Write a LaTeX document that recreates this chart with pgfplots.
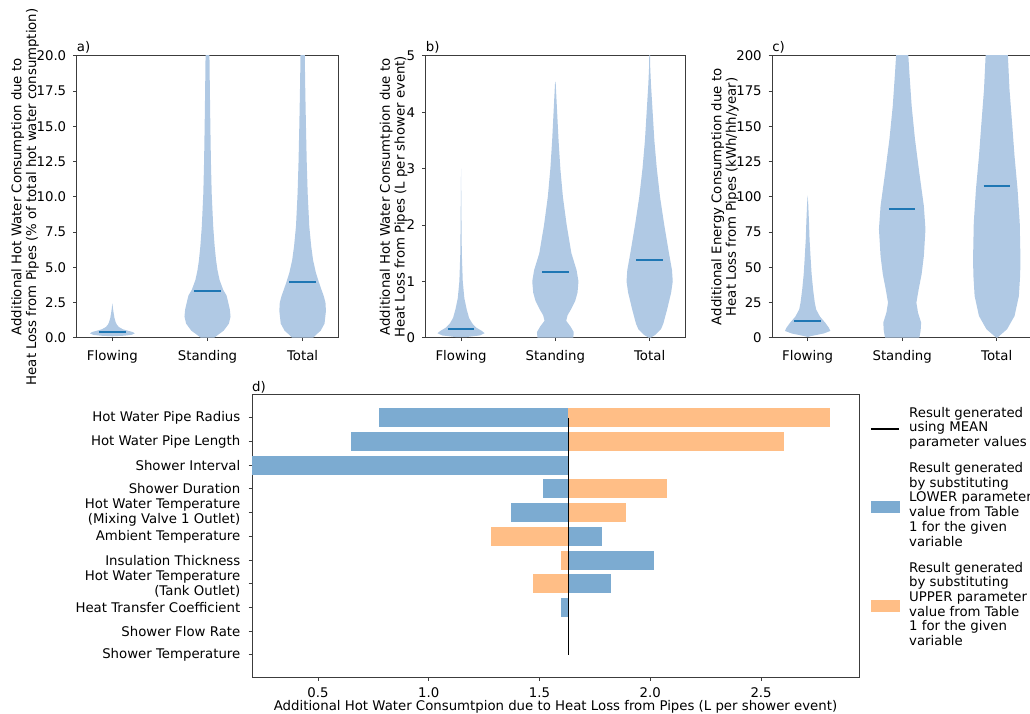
\documentclass[border=0pt]{standalone}
\usepackage{fontspec}
\setmainfont{DejaVu Sans}
\usepackage{pgfplots}
\pgfplotsset{compat=1.18}
\usepgfplotslibrary{fillbetween}
\usepackage{pgfplotstable}

\definecolor{vio}{RGB}{176,201,228}
\definecolor{meanc}{RGB}{31,119,180}
\definecolor{bblue}{RGB}{124,171,209}
\definecolor{borange}{RGB}{255,190,134}
\definecolor{spine}{RGB}{60,60,60}
\newcommand\fs{\fontsize{13.3pt}{14.7pt}\selectfont}

% ---- violin half-widths (y, w) ----
\pgfplotstableread{
y w
0.10 0.000
0.14 0.120
0.20 0.200
0.30 0.235
0.40 0.215
0.50 0.160
0.60 0.110
0.75 0.070
0.90 0.050
1.10 0.035
1.40 0.022
1.80 0.012
2.10 0.006
2.45 0.000
}\aF
\pgfplotstableread{
y w
0.0 0.070
0.2 0.110
0.5 0.170
1.0 0.225
1.5 0.242
2.0 0.235
2.5 0.218
3.0 0.200
3.4 0.165
4.1 0.127
4.8 0.105
5.5 0.090
6.5 0.075
7.9 0.060
10.25 0.044
12.5 0.036
15 0.030
17.5 0.025
19.7 0.021
21 0.020
}\aS
\pgfplotstableread{
y w
0.0 0.110
0.2 0.140
0.5 0.190
1.0 0.230
1.9 0.245
2.5 0.240
3.0 0.220
3.5 0.193
4.0 0.168
4.6 0.140
5.5 0.110
6.5 0.090
7.9 0.070
10.25 0.053
12.5 0.043
15 0.035
17.5 0.028
19.7 0.023
21 0.022
}\aT
\pgfplotstableread{
y w
0.01 0.050
0.04 0.200
0.08 0.250
0.12 0.220
0.18 0.160
0.25 0.120
0.35 0.085
0.50 0.060
0.70 0.035
1.00 0.018
1.50 0.008
2.00 0.005
3.00 0.000
}\bF
\pgfplotstableread{
y w
0.00 0.190
0.10 0.195
0.20 0.160
0.30 0.115
0.40 0.130
0.50 0.165
0.65 0.210
0.80 0.235
1.00 0.245
1.20 0.225
1.50 0.170
2.00 0.120
2.50 0.080
3.00 0.053
3.50 0.034
4.00 0.019
4.50 0.004
4.55 0.000
}\bS
\pgfplotstableread{
y w
0.00 0.010
0.05 0.060
0.15 0.120
0.25 0.145
0.50 0.185
0.80 0.228
1.00 0.245
1.20 0.237
1.50 0.205
2.00 0.155
2.50 0.110
3.00 0.076
3.50 0.050
4.00 0.032
4.50 0.014
4.80 0.006
5.10 0.003
}\bT
\pgfplotstableread{
y w
0.5 0.000
1.2 0.040
3 0.170
4.8 0.240
7 0.225
10.7 0.185
15 0.130
20 0.090
25 0.075
34 0.058
45 0.042
58 0.030
70 0.020
82 0.014
95 0.006
101 0.000
}\cF
\pgfplotstableread{
y w
0 0.180
1.2 0.185
5 0.195
10.7 0.200
17.8 0.167
24.9 0.150
34.3 0.174
45 0.205
58 0.229
77 0.246
93.5 0.229
117 0.181
141 0.135
164.5 0.100
188 0.076
200 0.065
210 0.060
}\cS
\pgfplotstableread{
y w
0 0.005
2 0.040
6 0.109
15.4 0.188
29.6 0.234
45 0.248
58 0.250
81.7 0.243
105.4 0.220
129 0.188
152.6 0.162
176 0.135
200 0.118
210 0.112
}\cT

\newcommand\violin[3]{%
  \addplot[draw=none, forget plot, name path=#3R] table[x expr={#1+\thisrow{w}}, y=y]{#2};
  \addplot[draw=none, forget plot, name path=#3L] table[x expr={#1-\thisrow{w}}, y=y]{#2};
  \addplot[fill=vio, draw=none, forget plot] fill between[of=#3R and #3L, reverse=true];
}

\pgfplotsset{
  base/.style={
    scale only axis, anchor=south west,
    axis line style={spine, line width=1pt},
    every tick/.style={spine, line width=1pt},
    tick align=outside, major tick length=3.5pt, tick pos=left,
    tick label style={font=\fs},
    /pgf/number format/assume math mode=true,
    xticklabel style={inner sep=0pt, anchor=north, yshift=-8.6pt},
    yticklabel style={inner sep=0pt, anchor=east, xshift=-6.8pt},
    label style={font=\fs, inner sep=0pt, align=center},
    ylabel style={anchor=south},
    title style={font=\fs, at={(0,1)}, anchor=base west, inner sep=0pt, yshift=-1.5pt},
  },
  vio/.style={base, xmin=0.625, xmax=3.375, xtick={1,2,3},
    xticklabels={Flowing,Standing,Total}, ymin=0},
  lgline/.style={legend image code/.code={\draw[black, line width=1.5pt] (0pt,0pt) -- (28pt,0pt); \path (38pt,0pt);}},
  lgblue/.style={legend image code/.code={\fill[bblue] (0pt,-5.5pt) rectangle (28pt,5.5pt); \path (38pt,0pt);}},
  lgorange/.style={legend image code/.code={\fill[borange] (0pt,-5.5pt) rectangle (28pt,5.5pt); \path (38pt,0pt);}},
}

\begin{document}
\begin{tikzpicture}

% ---------- a ----------
\begin{axis}[vio, at={(76.7pt,376.3pt)}, width=261.6pt, height=281.7pt,
  ymax=20, ytick={0,2.5,5,7.5,10,12.5,15,17.5,20},
  yticklabel style={/pgf/number format/.cd, fixed, fixed zerofill, precision=1},
  ylabel={Additional Hot Water Consumption due to\\Heat Loss from Pipes (\% of total hot water consumption)},
  ylabel style={at={(axis description cs:-0.144,0.5)}},
  title={a)}]
\violin{1}{\aF}{aF}
\violin{2}{\aS}{aS}
\violin{3}{\aT}{aT}
\addplot[meanc, line width=2pt] coordinates {(0.86,0.43) (1.14,0.43)};
\addplot[meanc, line width=2pt] coordinates {(1.86,3.31) (2.14,3.31)};
\addplot[meanc, line width=2pt] coordinates {(2.86,3.98) (3.14,3.98)};
\end{axis}

% ---------- b ----------
\begin{axis}[vio, at={(425.7pt,376.3pt)}, width=259.3pt, height=281.7pt,
  ymax=5, ytick={0,1,2,3,4,5},
  ylabel={Additional Hot Water Consumtpion due to\\Heat Loss from Pipes (L per shower event)},
  ylabel style={at={(axis description cs:-0.070,0.5)}},
  title={b)}]
\violin{1}{\bF}{bF}
\violin{2}{\bS}{bS}
\violin{3}{\bT}{bT}
\addplot[meanc, line width=2pt] coordinates {(0.86,0.16) (1.14,0.16)};
\addplot[meanc, line width=2pt] coordinates {(1.86,1.166) (2.14,1.166)};
\addplot[meanc, line width=2pt] coordinates {(2.86,1.38) (3.14,1.38)};
\end{axis}

% ---------- c ----------
\begin{axis}[vio, at={(772.2pt,376.3pt)}, width=260pt, height=281.7pt,
  ymax=200, ytick={0,25,50,75,100,125,150,175,200},
  ylabel={Additional Energy Consumption due to\\Heat Loss from Pipes (kWh/hh/year)},
  ylabel style={at={(axis description cs:-0.128,0.5)}},
  title={c)}]
\violin{1}{\cF}{cF}
\violin{2}{\cS}{cS}
\violin{3}{\cT}{cT}
\addplot[meanc, line width=2pt] coordinates {(0.86,11.9) (1.14,11.9)};
\addplot[meanc, line width=2pt] coordinates {(1.86,91.2) (2.14,91.2)};
\addplot[meanc, line width=2pt] coordinates {(2.86,107.7) (3.14,107.7)};
\end{axis}

% ---------- d ----------
\begin{axis}[base, at={(252pt,37pt)}, width=607pt, height=282pt,
  xmin=0.202, xmax=2.942, ymin=-0.96, ymax=10.93, y dir=reverse,
  xtick={0.5,1,1.5,2,2.5},
  xticklabel style={yshift=1.2pt, /pgf/number format/.cd, fixed, fixed zerofill, precision=1},
  ytick={0,...,10},
  yticklabel style={align=right, xshift=-1.2pt},
  yticklabels={Hot Water Pipe Radius, Hot Water Pipe Length, Shower Interval, Shower Duration,
    {Hot Water Temperature\\(Mixing Valve 1 Outlet)}, Ambient Temperature, Insulation Thickness,
    {Hot Water Temperature\\(Tank Outlet)}, Heat Transfer Coefficient, Shower Flow Rate, Shower Temperature},
  xlabel={Additional Hot Water Consumtpion due to Heat Loss from Pipes (L per shower event)},
  xlabel style={at={(axis description cs:0.5,0)}, anchor=base, yshift=-33.8pt},
  title={d)}, title style={yshift=-1pt},
  legend style={at={(1,1)}, anchor=north west, xshift=11pt, yshift=-11.7pt,
    draw=none, fill=none, inner sep=0pt, row sep=11.3pt, font=\fs,
    nodes={inner sep=0pt, text depth=, text height=}},
  legend cell align=left]
% bars: (row, low, high)
\addplot[fill=bblue, draw=none, forget plot] coordinates {(0.776,-0.4) (1.63,-0.4) (1.63,0.4) (0.776,0.4)};
\addplot[fill=borange, draw=none, forget plot] coordinates {(1.63,-0.4) (2.813,-0.4) (2.813,0.4) (1.63,0.4)};
\addplot[fill=bblue, draw=none, forget plot] coordinates {(0.649,0.6) (1.63,0.6) (1.63,1.4) (0.649,1.4)};
\addplot[fill=borange, draw=none, forget plot] coordinates {(1.63,0.6) (2.605,0.6) (2.605,1.4) (1.63,1.4)};
\addplot[fill=bblue, draw=none, forget plot] coordinates {(0.10,1.6) (1.63,1.6) (1.63,2.4) (0.10,2.4)};
\addplot[fill=bblue, draw=none, forget plot] coordinates {(1.515,2.6) (1.63,2.6) (1.63,3.4) (1.515,3.4)};
\addplot[fill=borange, draw=none, forget plot] coordinates {(1.63,2.6) (2.077,2.6) (2.077,3.4) (1.63,3.4)};
\addplot[fill=bblue, draw=none, forget plot] coordinates {(1.369,3.6) (1.63,3.6) (1.63,4.4) (1.369,4.4)};
\addplot[fill=borange, draw=none, forget plot] coordinates {(1.63,3.6) (1.889,3.6) (1.889,4.4) (1.63,4.4)};
\addplot[fill=borange, draw=none, forget plot] coordinates {(1.279,4.6) (1.63,4.6) (1.63,5.4) (1.279,5.4)};
\addplot[fill=bblue, draw=none, forget plot] coordinates {(1.63,4.6) (1.783,4.6) (1.783,5.4) (1.63,5.4)};
\addplot[fill=borange, draw=none, forget plot] coordinates {(1.595,5.6) (1.63,5.6) (1.63,6.4) (1.595,6.4)};
\addplot[fill=bblue, draw=none, forget plot] coordinates {(1.63,5.6) (2.018,5.6) (2.018,6.4) (1.63,6.4)};
\addplot[fill=borange, draw=none, forget plot] coordinates {(1.472,6.6) (1.63,6.6) (1.63,7.4) (1.472,7.4)};
\addplot[fill=bblue, draw=none, forget plot] coordinates {(1.63,6.6) (1.824,6.6) (1.824,7.4) (1.63,7.4)};
\addplot[fill=bblue, draw=none, forget plot] coordinates {(1.596,7.6) (1.63,7.6) (1.63,8.4) (1.596,8.4)};
% mean line
\addplot[black, line width=1.5pt, forget plot] coordinates {(1.63,0) (1.63,10)};
% legend
\addlegendimage{lgline}
\addlegendentry{\begin{tabular}[c]{@{}l@{}}Result generated\\using MEAN\\parameter values\end{tabular}}
\addlegendimage{lgblue}
\addlegendentry{\begin{tabular}[c]{@{}l@{}}Result generated\\by substituting\\LOWER parameter\\value from Table\\1 for the given\\variable\end{tabular}}
\addlegendimage{lgorange}
\addlegendentry{\begin{tabular}[c]{@{}l@{}}Result generated\\by substituting\\UPPER parameter\\value from Table\\1 for the given\\variable\end{tabular}}
\end{axis}
\pgfresetboundingbox
\path (0pt,0pt) rectangle (1030pt,714pt);
\end{tikzpicture}
\end{document}
